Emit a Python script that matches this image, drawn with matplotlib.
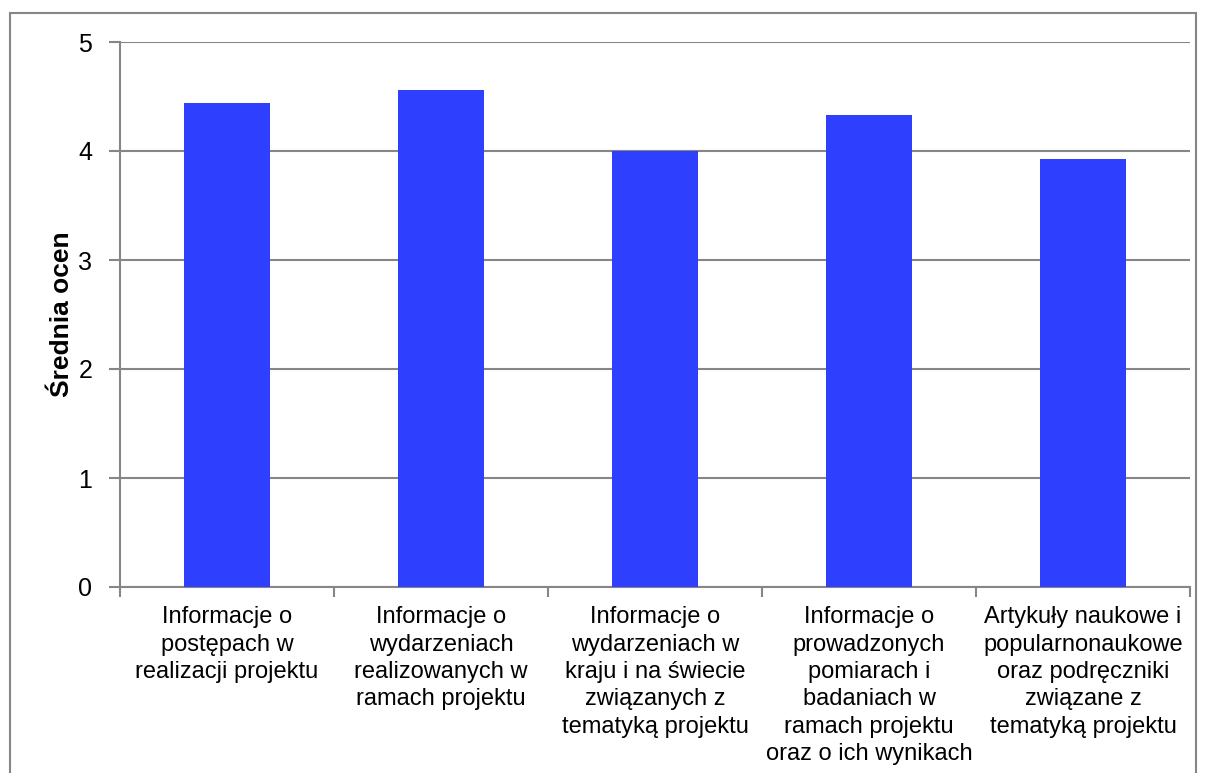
import matplotlib
matplotlib.use("Agg")
import matplotlib.pyplot as plt
from matplotlib.patches import Rectangle

# Data
categories = [
    "Informacje o\npostępach w\nrealizacji projektu",
    "Informacje o\nwydarzeniach\nrealizowanych w\nramach projektu",
    "Informacje o\nwydarzeniach w\nkraju i na świecie\nzwiązanych z\ntematyką projektu",
    "Informacje o\nprowadzonych\npomiarach i\nbadaniach w\nramach projektu\noraz o ich wynikach",
    "Artykuły naukowe i\npopularnonaukowe\noraz podręczniki\nzwiązane z\ntematyką projektu",
]
values = [4.44, 4.56, 4.00, 4.33, 3.93]
y_ticks = [0, 1, 2, 3, 4, 5]

BAR_COLOR = "#2e3ffe"
GRID_COLOR = "#868686"

plt.rcParams["font.family"] = ["Liberation Sans", "DejaVu Sans"]

fig = plt.figure(figsize=(12.06, 7.73), dpi=100)
ax = fig.add_axes([120 / 1206, 1 - 587 / 773, 1070 / 1206, 545 / 773])

# outer chart frame
fig.patches.append(Rectangle((10 / 1206, -0.01), 1186 / 1206, 1 - 13 / 773 + 0.01,
                             transform=fig.transFigure, fill=False,
                             edgecolor=GRID_COLOR, linewidth=1.5))

x = list(range(len(categories)))
ax.bar(x, values, width=0.4, color=BAR_COLOR, zorder=3)

ax.set_xlim(-0.5, len(categories) - 0.5)
ax.set_ylim(0, 5)
ax.set_yticks(y_ticks)
ax.set_yticklabels([str(t) for t in y_ticks], fontsize=18)
ax.yaxis.grid(True, color=GRID_COLOR, linewidth=1.5, zorder=0)
ax.tick_params(axis="y", length=8, width=1.5, color=GRID_COLOR, pad=12)

# category labels centred, ticks on boundaries
ax.set_xticks(x)
ax.set_xticklabels(categories, fontsize=17, linespacing=1.31)
ax.tick_params(axis="x", which="major", length=0, pad=14)
ax.set_xticks([i - 0.5 for i in range(len(categories) + 1)], minor=True)
ax.tick_params(axis="x", which="minor", length=7, width=1.5, color=GRID_COLOR)

for side in ["top", "right"]:
    ax.spines[side].set_visible(False)
for side in ["left", "bottom"]:
    ax.spines[side].set_color(GRID_COLOR)
    ax.spines[side].set_linewidth(1.5)

ax.set_ylabel("Średnia ocen", fontsize=19, fontweight="bold", labelpad=3)

fig.savefig("out.png", dpi=100)
